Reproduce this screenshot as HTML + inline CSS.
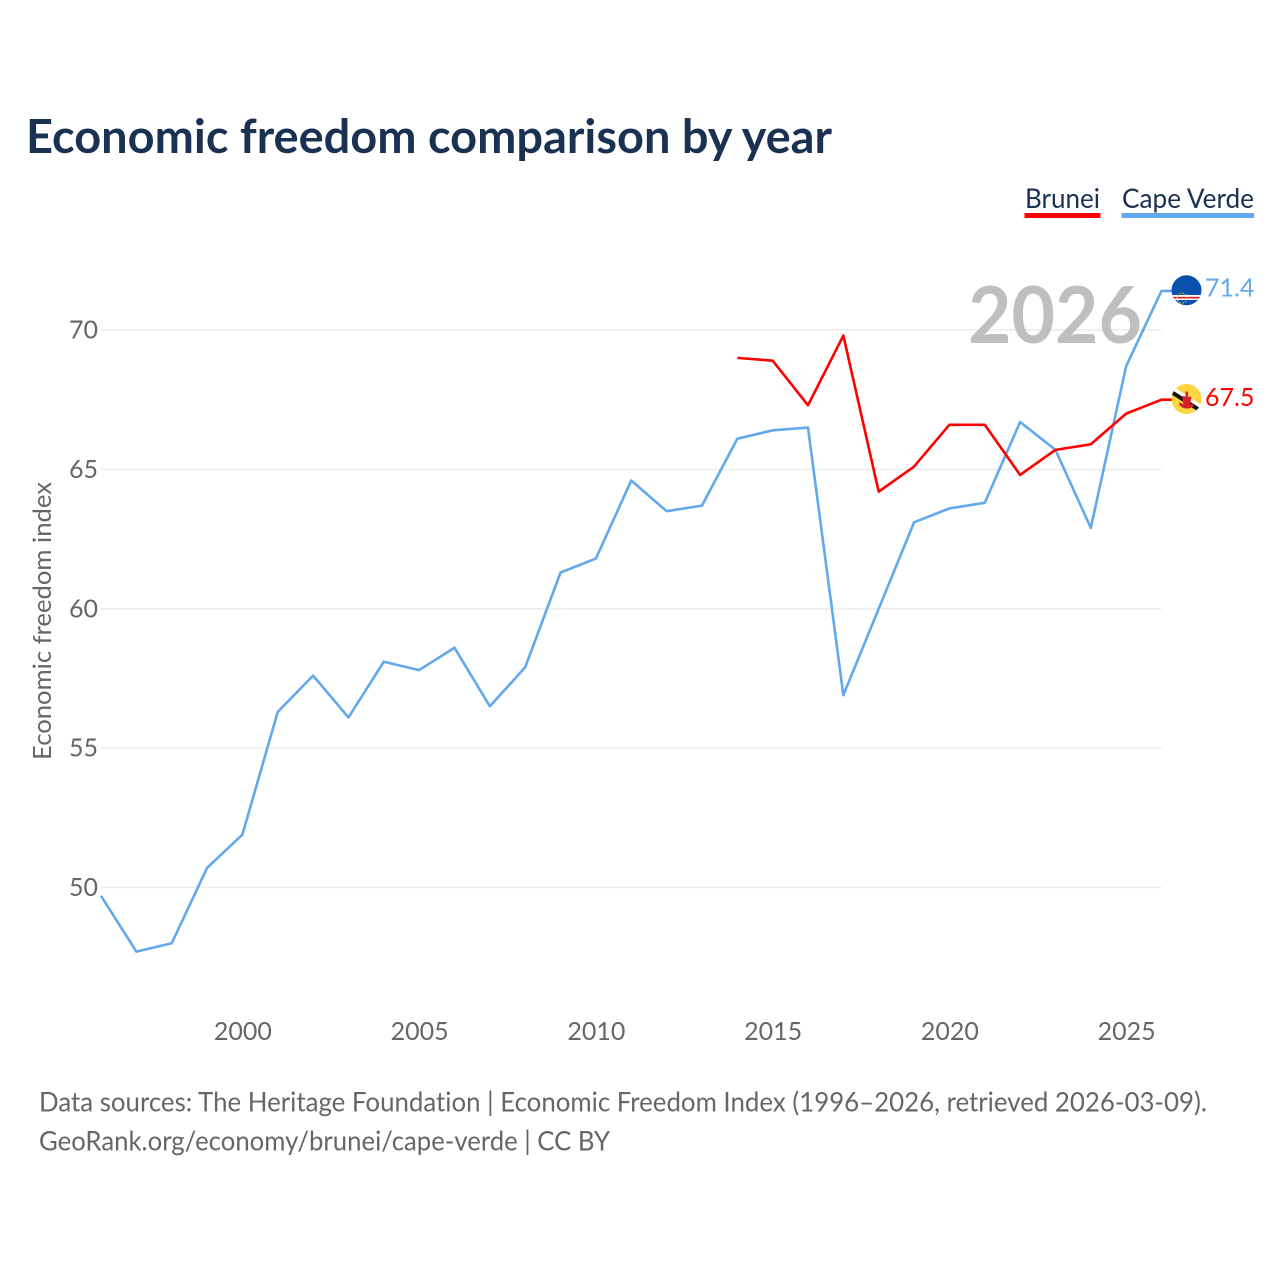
<!DOCTYPE html>
<html>
<head>
<meta charset="utf-8">
<style>
html,body{margin:0;padding:0;background:#fff;width:1280px;height:1280px;overflow:hidden}
svg{display:block}
text{font-family:"Lato","Carlito","Liberation Sans",sans-serif;font-variant-ligatures:none}
</style>
</head>
<body>
<svg id="chart" width="1280" height="1280" viewBox="0 0 1280 1280" xmlns="http://www.w3.org/2000/svg">
  <defs>
    <clipPath id="clip-cv"><circle cx="1186.500" cy="290.300" r="15"/></clipPath>
    <clipPath id="clip-bn"><circle cx="1186.500" cy="399" r="15"/></clipPath>
  </defs>
  <text x="26" y="153" font-size="47" font-weight="700" fill="#1a3152" textLength="806" lengthAdjust="spacingAndGlyphs">Economic freedom comparison by year</text>
  <g id="grid"></g>
  <g id="yticks"></g>
  <g id="xticks"></g>
  <text transform="translate(51,621) rotate(-90)" text-anchor="middle" font-size="25.500" fill="#666" textLength="278" lengthAdjust="spacingAndGlyphs">Economic freedom index</text>
  <text x="1142" y="343" text-anchor="end" font-size="79" font-weight="700" fill="#bfbfbf" textLength="174" lengthAdjust="spacingAndGlyphs">2026</text>
  <g id="lines"></g>
  <g>
    <text x="1025" y="208" font-size="27.500" fill="#1a3152" textLength="75" lengthAdjust="spacingAndGlyphs">Brunei</text>
    <rect x="1024.500" y="213" width="76" height="5" fill="#ff0000"/>
  </g>
  <g>
    <text x="1122" y="208" font-size="27.500" fill="#1a3152" textLength="132" lengthAdjust="spacingAndGlyphs">Cape Verde</text>
    <rect x="1121.500" y="213" width="132.500" height="5" fill="#62a8ec"/>
  </g>
  <g clip-path="url(#clip-cv)">
    <rect x="1170" y="274" width="34" height="34" fill="#0a51ae"/>
    <rect x="1170" y="295" width="34" height="5" fill="#fff"/>
    <rect x="1170" y="296.800" width="34" height="1.700" fill="#d8202c"/>
    <circle cx="1182" cy="298" r="5" fill="none" stroke="#c9b04a" stroke-width="1.300" stroke-dasharray="1.500 1.500"/>
  </g>
  <g clip-path="url(#clip-bn)">
    <rect x="1170" y="383" width="34" height="34" fill="#fdd63f"/>
    <line x1="1170" y1="387" x2="1204" y2="409" stroke="#fff" stroke-width="4"/>
    <line x1="1170" y1="391" x2="1204" y2="413" stroke="#111" stroke-width="4"/>
    <path d="M1179.500 402 Q1186 407 1193.500 403 L1193.500 406.500 Q1186 411 1179.500 405.500 Z M1185.500 391.500 h2.500 v12 h-2.500 Z M1182 396 L1191.500 397 L1190 405.500 L1183.500 404.500 Z" fill="#d2202c"/>
  </g>
  <g id="end-labels"></g>
  <text x="39" y="1111.500" font-size="27" fill="#666" textLength="1168" lengthAdjust="spacingAndGlyphs">Data sources: The Heritage Foundation | Economic Freedom Index (1996–2026, retrieved 2026-03-09).</text>
  <text x="39" y="1150.500" font-size="27" fill="#666" textLength="571" lengthAdjust="spacingAndGlyphs">GeoRank.org/economy/brunei/cape-verde | CC BY</text>
</svg>
<script>
const capeVerdeYears = [1996,1997,1998,1999,2000,2001,2002,2003,2004,2005,2006,2007,2008,2009,2010,2011,2012,2013,2014,2015,2016,2017,2018,2019,2020,2021,2022,2023,2024,2025,2026];
const capeVerdeValues = [49.7,47.7,48.0,50.7,51.9,56.3,57.6,56.1,58.1,57.8,58.6,56.5,57.9,61.3,61.8,64.6,63.5,63.7,66.1,66.4,66.5,56.9,60.0,63.1,63.6,63.8,66.7,65.7,62.9,68.7,71.4];
const bruneiYears = [2014,2015,2016,2017,2018,2019,2020,2021,2022,2023,2024,2025,2026];
const bruneiValues = [69.0,68.9,67.3,69.8,64.2,65.1,66.6,66.6,64.8,65.7,65.9,67.0,67.5];
const yTicks = [50,55,60,65,70];
const xTicks = [2000,2005,2010,2015,2020,2025];

const NS = 'http://www.w3.org/2000/svg';
const xScale = function (year) { return 101 + (year - 1996) * (1161.5 - 101) / 30; };
const yScale = function (value) { return 887.5 - (value - 50) * (887.5 - 330) / 20; };

function make(tag, attrs, text) {
  const el = document.createElementNS(NS, tag);
  for (const k in attrs) el.setAttribute(k, attrs[k]);
  if (text !== undefined) el.textContent = text;
  return el;
}

const gridGroup = document.getElementById('grid');
const yGroup = document.getElementById('yticks');
yTicks.forEach(function (t) {
  const line = make('line', {x1: 101, x2: 1161.5, y1: yScale(t), y2: yScale(t), stroke: '#ececec', 'stroke-width': 1.5});
  
  
  gridGroup.appendChild(line);
  const label = make('text', {x: 98, y: yScale(t) + 8.5, 'text-anchor': 'end', 'font-size': 25, fill: '#666'}, String(t));
  
  
  yGroup.appendChild(label);
});

const xGroup = document.getElementById('xticks');
xTicks.forEach(function (t) {
  const label = make('text', {x: xScale(t) + 0.5, y: 1040, 'text-anchor': 'middle', 'font-size': 25, fill: '#666'}, String(t));
  
  
  xGroup.appendChild(label);
});

function linePoints(years, values) {
  const pts = years.map(function (y, i) { return xScale(y).toFixed(2) + ',' + yScale(values[i]).toFixed(2); });
  pts.push('1172,' + yScale(values[values.length - 1]).toFixed(2));
  return pts.join(' ');
}

const lineGroup = document.getElementById('lines');
const capeLine = make('polyline', {points: linePoints(capeVerdeYears, capeVerdeValues), fill: 'none', stroke: '#62a8ec', 'stroke-width': 2.6, 'stroke-linejoin': 'round'});


lineGroup.appendChild(capeLine);
const bruneiLine = make('polyline', {points: linePoints(bruneiYears, bruneiValues), fill: 'none', stroke: '#ff0000', 'stroke-width': 2.6, 'stroke-linejoin': 'round'});


lineGroup.appendChild(bruneiLine);

const labelGroup = document.getElementById('end-labels');
const capeLast = capeVerdeValues[capeVerdeValues.length - 1];
const bruneiLast = bruneiValues[bruneiValues.length - 1];
const capeLabel = make('text', {x: 1205, y: yScale(capeLast) + 5.5, 'font-size': 25, fill: '#62a8ec'}, capeLast.toFixed(1));


labelGroup.appendChild(capeLabel);
const bruneiLabel = make('text', {x: 1205, y: yScale(bruneiLast) + 6.5, 'font-size': 25, fill: '#ff0000'}, bruneiLast.toFixed(1));


labelGroup.appendChild(bruneiLabel);
</script>
</body>
</html>
